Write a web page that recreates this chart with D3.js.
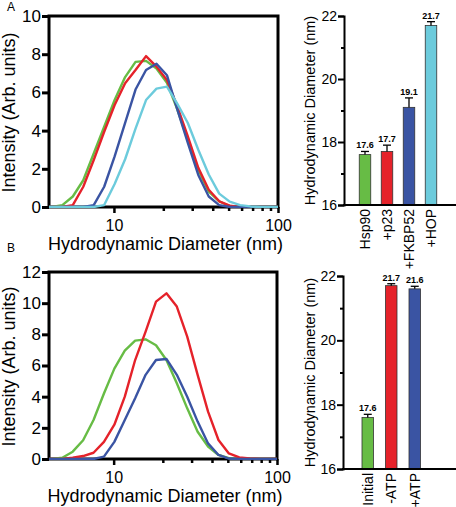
<!DOCTYPE html>
<html><head><meta charset="utf-8">
<script src="https://cdn.jsdelivr.net/npm/d3@7"></script>
<style>
body{margin:0;background:#fff;}
svg{display:block;font-family:"Liberation Sans",Arial,sans-serif;}
</style></head>
<body><svg id="c" width="456" height="507"></svg>
<script>
// ---------- data ----------
const sizes = [3.615, 4.19, 4.849, 5.615, 6.503, 7.531, 8.721, 10.10, 11.70, 13.54, 15.69, 18.17, 21.04, 24.36, 28.21, 32.67, 37.84, 43.82, 50.75, 58.77, 68.06, 78.82, 91.28, 105.7];
const aHsp90  = [0,0,0.1,0.55,1.4,2.8,4.2,5.6,6.8,7.6,7.65,7.25,6.5,5.1,3.5,1.95,0.8,0.3,0.05,0,0,0,0,0];
const aP23    = [0,0,0,0.1,1.06,2.46,3.94,5.34,6.48,7.17,7.9,7.35,6.65,5.25,3.7,2.05,0.9,0.3,0.07,0,0,0,0,0];
const aFKBP52 = [0,0,0,0,0,0.1,1.06,2.65,4.4,6.15,7.17,7.5,6.9,5.1,3.35,1.68,0.55,0.1,0,0,0,0,0,0];
const aHOP    = [0,0,0,0,0,0,0.1,1.2,2.5,4.1,5.6,6.2,6.3,5.4,4.4,3.0,1.7,0.7,0.28,0.1,0.03,0,0,0];
const bInitial = [0,0,0.08,0.47,1.2,2.5,4.2,5.8,6.95,7.6,7.68,7.3,6.35,4.86,3.25,1.75,0.8,0.26,0.05,0,0,0,0,0];
const bMinusATP = [0,0,0,0.08,0.19,0.4,1.1,2.2,4.0,6.35,8.17,10.1,10.63,9.78,7.85,5.4,3.04,1.22,0.36,0.1,0.03,0,0,0];
const bPlusATP  = [0,0,0,0,0,0,0.15,1.1,2.5,3.9,5.4,6.35,6.42,5.4,4.0,2.4,1.0,0.26,0.03,0,0,0,0,0];

const barCatsA = ["Hsp90", "+p23", "+FKBP52", "+HOP"];
const barValsA = [17.6, 17.7, 19.1, 21.7];
const barErrA  = [0.1, 0.2, 0.3, 0.12];
const barCatsB = ["Initial", "-ATP", "+ATP"];
const barValsB = [17.6, 21.7, 21.6];
const barErrB  = [0.1, 0.06, 0.08];

const xTickMajor = [10, 100];
const xTickMinor = [20, 30, 40, 50, 60, 70, 80, 90];
const yTicksA = [0, 2, 4, 6, 8, 10];
const yTicksB = [0, 2, 4, 6, 8, 10, 12];
const barTicks = [16, 17, 18, 19, 20, 21, 22];

const GREEN = "#67bc45", RED = "#e5222a", BLUE = "#3a54a3", CYAN = "#6ccbdc";

const svg = d3.select("#c");

function linePanel(id, box, yMax, yTicks, series, colors) {
  const g = svg.append("g");
  const x = d3.scaleLog().domain([4.02, 100]).range([box.l, box.r]);
  const y = d3.scaleLinear().domain([0, yMax]).range([box.b, box.t]);
  // frame
  g.append("rect").attr("x", box.l).attr("y", box.t).attr("width", box.r - box.l).attr("height", box.b - box.t)
    .attr("fill", "none").attr("stroke", "#000").attr("stroke-width", 3);
  // y axis
  const ya = g.append("g").attr("transform", `translate(${box.l},0)`)
    .call(d3.axisLeft(y).tickValues(yTicks).tickSize(7).tickPadding(1).tickFormat(d3.format("d")));
  ya.select(".domain").remove();
  ya.selectAll("line").attr("stroke-width", 3);
  ya.selectAll("text").attr("font-size", 17).attr("font-family", "Liberation Sans, Arial, sans-serif").attr("fill", "#000");
  // x axis major
  const xa = g.append("g").attr("transform", `translate(0,${box.b})`)
    .call(d3.axisBottom(x).tickValues(xTickMajor).tickSize(6).tickPadding(7).tickFormat(d3.format("d")));
  xa.select(".domain").remove();
  xa.selectAll("line").attr("stroke-width", 2.5);
  xa.selectAll("text").attr("font-size", 16).attr("font-family", "Liberation Sans, Arial, sans-serif").attr("fill", "#000");
  const xm = g.append("g").attr("transform", `translate(0,${box.b})`)
    .call(d3.axisBottom(x).tickValues(xTickMinor).tickSize(4).tickFormat(""));
  xm.select(".domain").remove();
  xm.selectAll("line").attr("stroke-width", 2.5);
  // labels
  g.append("text").attr("x", (box.l + box.r) / 2 + 2).attr("y", box.b + 43).attr("text-anchor", "middle")
    .attr("font-size", 18).text("Hydrodynamic Diameter (nm)");
  g.append("text").attr("transform", `translate(15,${(box.t + box.b) / 2 + 1}) rotate(-90)`).attr("text-anchor", "middle")
    .attr("font-size", 18).text("Intensity (Arb. units)");
  // clip
  svg.append("clipPath").attr("id", id).append("rect")
    .attr("x", box.l).attr("y", box.t - 2).attr("width", box.r - box.l).attr("height", box.b - box.t + 3);
  const line = d3.line().x((d, i) => x(sizes[i])).y(d => y(d));
  const lg = g.append("g").attr("clip-path", `url(#${id})`);
  series.forEach((s, k) => {
    lg.append("path").datum(s).attr("d", line).attr("fill", "none").attr("stroke", colors[k])
      .attr("stroke-width", 2.4).attr("stroke-linejoin", "round");
  });
}

function barPanel(box, cats, vals, errs, colors, catRange) {
  const g = svg.append("g");
  const y = d3.scaleLinear().domain([16, 22]).range([box.b, box.t]);
  const x = d3.scaleBand().domain(cats).range(catRange).padding(0);
  const bw = 11.5;
  // bars
  cats.forEach((c, i) => {
    const cx = x(c) + x.bandwidth() / 2;
    g.append("rect").attr("x", cx - bw / 2).attr("y", y(vals[i])).attr("width", bw).attr("height", y(16) - y(vals[i]))
      .attr("fill", colors[i]).attr("stroke", "#333").attr("stroke-width", 0.8);
    const ye = y(vals[i] + errs[i]);
    g.append("line").attr("x1", cx).attr("x2", cx).attr("y1", y(vals[i])).attr("y2", ye).attr("stroke", "#000").attr("stroke-width", 1.3);
    g.append("line").attr("x1", cx - 4).attr("x2", cx + 4).attr("y1", ye).attr("y2", ye).attr("stroke", "#000").attr("stroke-width", 1.3);
    g.append("text").attr("x", cx).attr("y", ye - 3).attr("text-anchor", "middle").attr("font-size", 9)
      .attr("font-weight", "bold").text(vals[i].toFixed(1));
    g.append("text").attr("transform", `translate(${cx + 5},${box.b + 4}) rotate(-90)`).attr("text-anchor", "end")
      .attr("font-size", 14).text(c);
  });
  // y axis
  const ya = g.append("g").attr("transform", `translate(${box.l},0)`)
    .call(d3.axisLeft(y).tickValues(barTicks).tickSize(6).tickPadding(1).tickFormat(d => d % 2 === 0 ? d : ""));
  ya.select(".domain").attr("stroke-width", 2);
  ya.selectAll(".tick line").attr("stroke-width", 2).attr("x2", d => d % 2 === 0 ? -6 : -3);
  ya.selectAll("text").attr("font-size", 14).attr("font-family", "Liberation Sans, Arial, sans-serif").attr("fill", "#000");
  g.append("line").attr("x1", box.l - 1).attr("x2", 456).attr("y1", box.b).attr("y2", box.b).attr("stroke", "#000").attr("stroke-width", 2);
  g.append("text").attr("transform", `translate(315,${(box.t + box.b) / 2}) rotate(-90)`).attr("text-anchor", "middle")
    .attr("font-size", 14.5).text("Hydrodynamic Diameter (nm)");
}

linePanel("clipA", {l: 49, r: 278, t: 16, b: 207}, 10, yTicksA, [aHsp90, aP23, aFKBP52, aHOP], [GREEN, RED, BLUE, CYAN]);
linePanel("clipB", {l: 49, r: 277, t: 272, b: 459}, 12, yTicksB, [bInitial, bMinusATP, bPlusATP], [GREEN, RED, BLUE]);
barPanel({l: 344, t: 16, b: 205}, barCatsA, barValsA, barErrA, [GREEN, RED, BLUE, CYAN], [354, 442]);
barPanel({l: 343, t: 276, b: 469}, barCatsB, barValsB, barErrB, [GREEN, RED, BLUE], [356, 426.5]);

svg.append("text").attr("x", 7).attr("y", 11).attr("font-size", 12).text("A");
svg.append("text").attr("x", 7).attr("y", 252).attr("font-size", 12).text("B");
</script></body></html>
